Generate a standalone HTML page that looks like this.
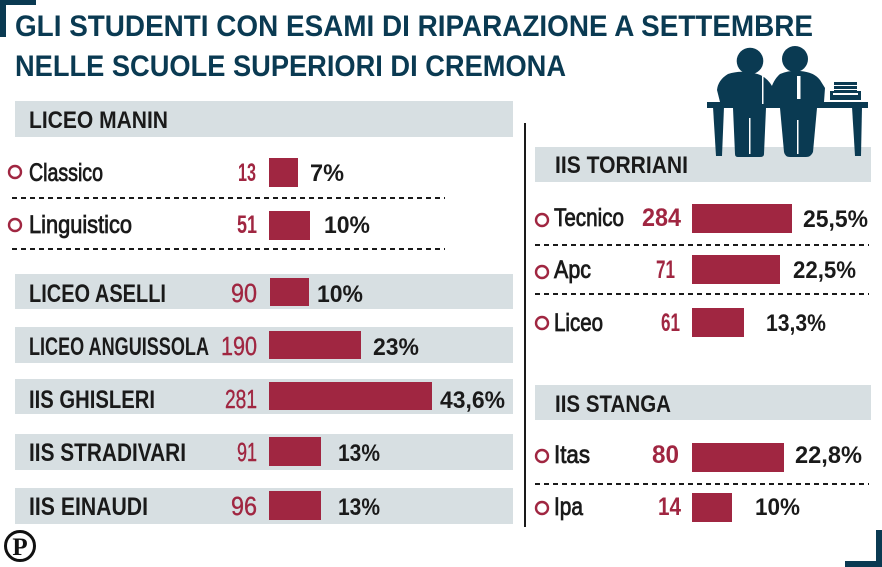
<!DOCTYPE html>
<html><head><meta charset="utf-8"><style>
html,body{margin:0;padding:0;background:#fff;}
svg{display:block;}
text{font-family:"Liberation Sans Narrow","Liberation Sans",sans-serif;}
.t{font-weight:bold;fill:#0a3a52;font-size:30px;}
.b{font-weight:bold;fill:#1a1a1a;font-size:25px;}
.r{fill:#1a1a1a;font-size:25px;stroke:#1a1a1a;stroke-width:0.8px;}
.nb{font-weight:bold;fill:#a02641;font-size:25px;}
.nr{fill:#a02641;font-size:26px;stroke:#a02641;stroke-width:0.4px;}
.p{font-weight:bold;fill:#1a1a1a;font-size:24px;}
</style></head><body>
<svg width="882" height="567" viewBox="0 0 882 567" xmlns="http://www.w3.org/2000/svg">
<!-- corner brackets -->
<rect x="0" y="0" width="36" height="5" fill="#0a3a52"/>
<rect x="0" y="0" width="6" height="37" fill="#0a3a52"/>
<rect x="845" y="561" width="37" height="6" fill="#0a3a52"/>
<rect x="876" y="530" width="6" height="37" fill="#0a3a52"/>

<!-- title -->
<text class="t" x="15" y="36" textLength="798" lengthAdjust="spacingAndGlyphs">GLI STUDENTI CON ESAMI DI RIPARAZIONE A SETTEMBRE</text>
<text class="t" x="15" y="76" textLength="551" lengthAdjust="spacingAndGlyphs">NELLE SCUOLE SUPERIORI DI CREMONA</text>

<!-- bands -->
<g fill="#d7dfe2">
<rect x="15" y="101" width="498" height="36"/>
<rect x="15" y="274" width="498" height="35"/>
<rect x="15" y="327" width="498" height="36"/>
<rect x="15" y="379" width="498" height="35"/>
<rect x="15" y="434" width="498" height="36"/>
<rect x="15" y="488" width="498" height="36"/>
<rect x="535" y="147" width="336" height="35"/>
<rect x="535" y="385" width="336" height="35"/>
</g>

<!-- illustration -->
<g fill="#0a3a52">
<rect x="707" y="102" width="161" height="6"/>
<path d="M713,107 L724,107 L722,156 L716,156 Z"/>
<path d="M852,107 L862,107 L861,156 L855,156 Z"/>
<circle cx="750" cy="61" r="13.3"/>
<circle cx="795" cy="59" r="13"/>
<path d="M728,74 Q740,70 752,73 Q765,74 772,86 L778,95 L776,102 L720,102 L717,90 Q718,80 728,74 Z"/>
<path d="M780,74 Q790,70 800,71 Q814,72 820,80 L825,88 L824,102 L768,102 L770,92 Q773,80 780,74 Z"/>
<path d="M733,108 L766,108 L764,154 Q764,157 760,157 L738,157 Q735,157 735,154 Z"/>
<path d="M780,108 L817,108 L813,152 Q811,157 806,157 L790,157 Q785,157 784,152 Z"/>
<rect x="830" y="91" width="31" height="9"/>
<rect x="834" y="82" width="23" height="3"/>
<rect x="834" y="86" width="23" height="3"/>
<rect x="834" y="90" width="23" height="3"/>
</g>
<g fill="#fff">
<rect x="797" y="76" width="3.5" height="23"/>
<rect x="762" y="76" width="1.5" height="28"/>
<rect x="749" y="118" width="1.5" height="36"/>
<rect x="797" y="120" width="1.5" height="34"/>
<rect x="833" y="93" width="25" height="2"/>
</g>

<!-- divider -->
<rect x="524" y="123" width="2" height="404" fill="#1a1a1a"/>

<!-- dashed lines -->
<g stroke="#1a1a1a" stroke-width="2" stroke-dasharray="5 4">
<line x1="12" y1="198" x2="445" y2="198"/>
<line x1="12" y1="249" x2="445" y2="249"/>
<line x1="535" y1="245" x2="869" y2="245"/>
<line x1="535" y1="294" x2="869" y2="294"/>
<line x1="535" y1="484" x2="869" y2="484"/>
</g>

<!-- circles -->
<g fill="none" stroke="#a02641" stroke-width="2.4">
<circle cx="15" cy="172" r="6"/>
<circle cx="15" cy="225" r="6"/>
<circle cx="542" cy="220" r="6"/>
<circle cx="542" cy="272" r="6"/>
<circle cx="542" cy="323" r="6"/>
<circle cx="542" cy="456" r="6"/>
<circle cx="542" cy="508" r="6"/>
</g>

<!-- bars -->
<g fill="#a02641">
<rect x="269" y="158" width="29" height="29"/>
<rect x="269" y="211" width="41" height="29"/>
<rect x="270" y="278" width="39" height="28"/>
<rect x="269" y="331" width="92" height="28"/>
<rect x="269" y="382" width="163" height="28"/>
<rect x="269" y="437" width="52" height="29"/>
<rect x="269" y="491" width="52" height="29"/>
<rect x="692" y="204" width="100" height="29"/>
<rect x="692" y="255" width="88" height="29"/>
<rect x="692" y="308" width="52" height="29"/>
<rect x="692" y="443" width="92" height="29"/>
<rect x="692" y="493" width="40" height="29"/>
</g>

<!-- left texts -->
<text class="b" x="29" y="128" textLength="139" lengthAdjust="spacingAndGlyphs" style="font-size:24px">LICEO MANIN</text>

<text class="r" x="29" y="181" textLength="74" lengthAdjust="spacingAndGlyphs">Classico</text>
<text class="nb" x="238" y="181" textLength="18" lengthAdjust="spacingAndGlyphs">13</text>
<text class="p" x="310" y="181" textLength="34" lengthAdjust="spacingAndGlyphs">7%</text>

<text class="r" x="29" y="233" textLength="103" lengthAdjust="spacingAndGlyphs">Linguistico</text>
<text class="nb" x="237" y="233" textLength="20" lengthAdjust="spacingAndGlyphs">51</text>
<text class="p" x="324" y="233" textLength="46" lengthAdjust="spacingAndGlyphs">10%</text>

<text class="b" x="29" y="302" textLength="137" lengthAdjust="spacingAndGlyphs">LICEO ASELLI</text>
<text class="nr" x="231" y="302" textLength="26" lengthAdjust="spacingAndGlyphs">90</text>
<text class="p" x="317" y="302" textLength="46" lengthAdjust="spacingAndGlyphs">10%</text>

<text class="b" x="29" y="355" textLength="180" lengthAdjust="spacingAndGlyphs">LICEO ANGUISSOLA</text>
<text class="nr" x="221" y="355" textLength="36" lengthAdjust="spacingAndGlyphs">190</text>
<text class="p" x="373" y="355" textLength="46" lengthAdjust="spacingAndGlyphs">23%</text>

<text class="b" x="29" y="408" textLength="126" lengthAdjust="spacingAndGlyphs">IIS GHISLERI</text>
<text class="nr" x="225" y="408" textLength="32" lengthAdjust="spacingAndGlyphs">281</text>
<text class="p" x="440" y="408" textLength="65" lengthAdjust="spacingAndGlyphs">43,6%</text>

<text class="b" x="29" y="461" textLength="157" lengthAdjust="spacingAndGlyphs">IIS STRADIVARI</text>
<text class="nr" x="237" y="461" textLength="20" lengthAdjust="spacingAndGlyphs">91</text>
<text class="p" x="338" y="461" textLength="42" lengthAdjust="spacingAndGlyphs">13%</text>

<text class="b" x="29" y="515" textLength="119" lengthAdjust="spacingAndGlyphs">IIS EINAUDI</text>
<text class="nr" x="231" y="515" textLength="26" lengthAdjust="spacingAndGlyphs">96</text>
<text class="p" x="338" y="515" textLength="42" lengthAdjust="spacingAndGlyphs">13%</text>

<!-- right texts -->
<text class="b" x="555" y="173" textLength="133" lengthAdjust="spacingAndGlyphs" style="font-size:24px">IIS TORRIANI</text>

<text class="r" x="554" y="226" textLength="70" lengthAdjust="spacingAndGlyphs">Tecnico</text>
<text class="nb" x="642" y="226" textLength="39" lengthAdjust="spacingAndGlyphs">284</text>
<text class="p" x="803" y="227" textLength="65" lengthAdjust="spacingAndGlyphs">25,5%</text>

<text class="r" x="554" y="278" textLength="37" lengthAdjust="spacingAndGlyphs">Apc</text>
<text class="nb" x="656" y="278" textLength="19" lengthAdjust="spacingAndGlyphs">71</text>
<text class="p" x="793" y="278" textLength="63" lengthAdjust="spacingAndGlyphs">22,5%</text>

<text class="r" x="554" y="331" textLength="49" lengthAdjust="spacingAndGlyphs">Liceo</text>
<text class="nb" x="661" y="331" textLength="19" lengthAdjust="spacingAndGlyphs">61</text>
<text class="p" x="766" y="331" textLength="60" lengthAdjust="spacingAndGlyphs">13,3%</text>

<text class="b" x="555" y="412" textLength="116" lengthAdjust="spacingAndGlyphs" style="font-size:24px">IIS STANGA</text>

<text class="r" x="554" y="463" textLength="36" lengthAdjust="spacingAndGlyphs">Itas</text>
<text class="nb" x="652" y="463" textLength="27" lengthAdjust="spacingAndGlyphs">80</text>
<text class="p" x="795" y="463" textLength="67" lengthAdjust="spacingAndGlyphs">22,8%</text>

<text class="r" x="554" y="515" textLength="29" lengthAdjust="spacingAndGlyphs">Ipa</text>
<text class="nb" x="658" y="515" textLength="23" lengthAdjust="spacingAndGlyphs">14</text>
<text class="p" x="755" y="515" textLength="45" lengthAdjust="spacingAndGlyphs">10%</text>

<!-- P logo -->
<circle cx="20" cy="546" r="14.5" fill="#fff" stroke="#111" stroke-width="3"/>
<text x="20" y="555" text-anchor="middle" style="font-family:'Liberation Serif',serif;font-weight:bold;font-size:25px;fill:#111">P</text>
</svg>
</body></html>
